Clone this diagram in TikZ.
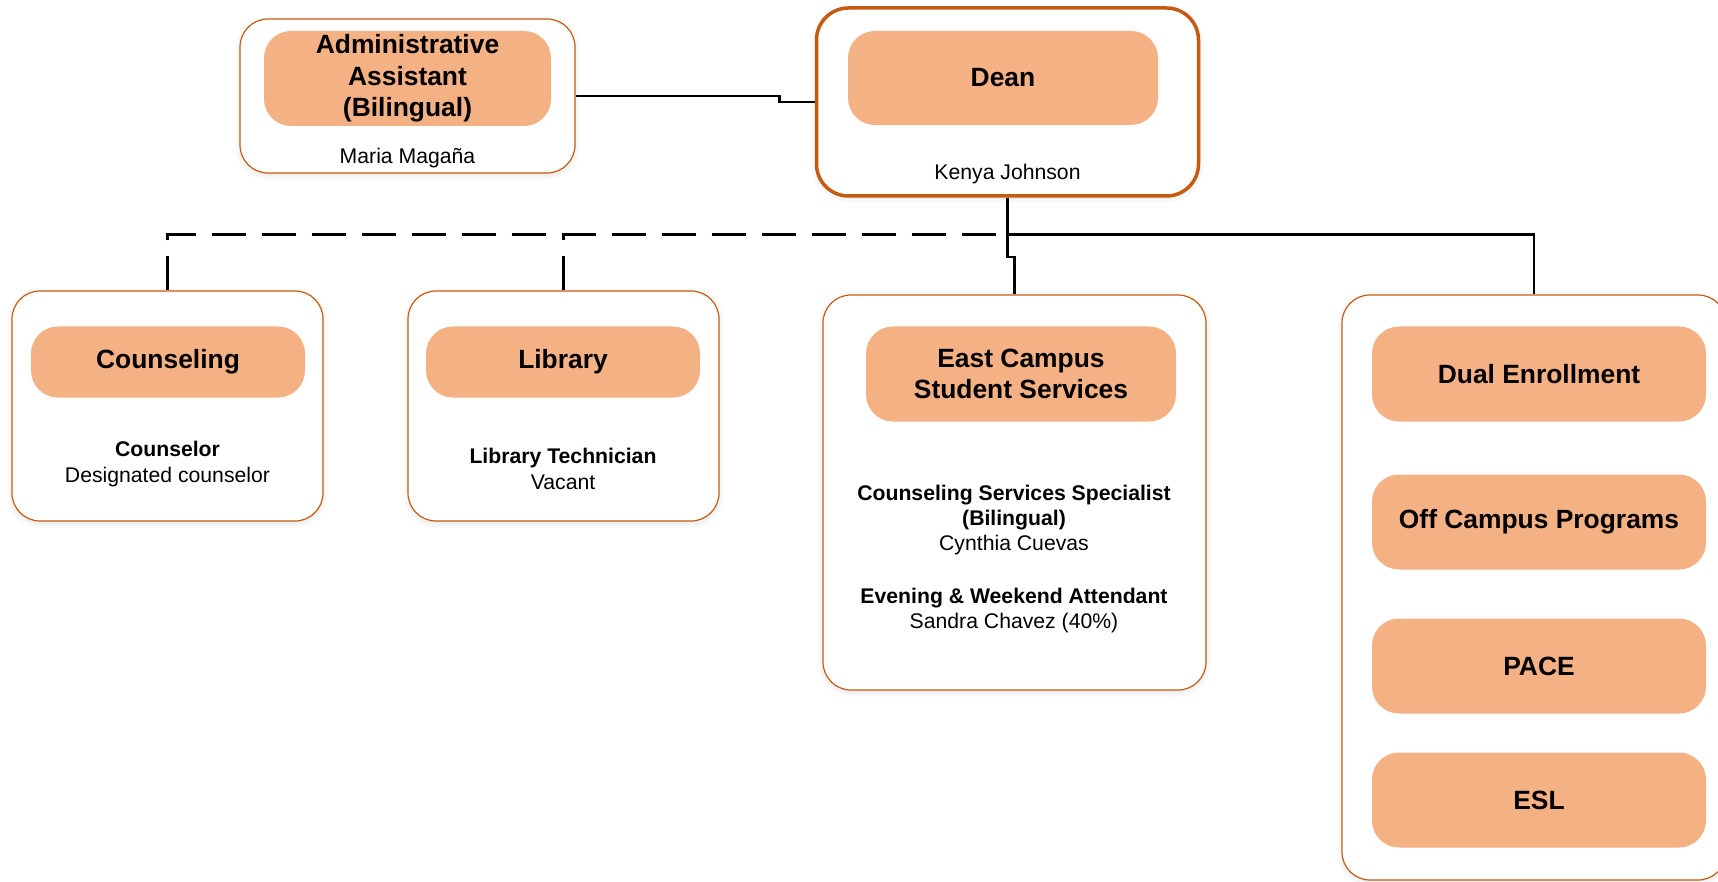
\documentclass[tikz,border=0pt]{standalone}
\usepackage{fontspec}
\setmainfont{Liberation Sans}
\usetikzlibrary{positioning,shadows.blur}
\definecolor{orgline}{HTML}{C55A11}
\definecolor{orgfill}{HTML}{F4B183}
\tikzset{
  unitbox/.style={draw=orgline,line width=1.2pt,fill=white,rounded corners=28pt,
    blur shadow={shadow xshift=0pt,shadow yshift=-2pt,shadow blur radius=6pt,shadow opacity=12,shadow blur steps=6}},
  deanbox/.style={unitbox,line width=3.5pt,rounded corners=32pt},
  titlebox/.style={fill=orgfill,rounded corners=27pt,align=center,inner sep=0pt,
    font=\bfseries\fontsize{26.4}{31.5}\selectfont},
  staff/.style={align=center,inner sep=0pt,font=\fontsize{21.2}{25.2}\selectfont},
  conn/.style={line width=2.4pt},
  dotline/.style={conn,dash pattern=on 34pt off 16pt}
}
\begin{document}
\begin{tikzpicture}[x=1pt,y=-1pt]
\useasboundingbox (0,0) rectangle (1718,882);
\pgfmathsetmacro{\busy}{234.5}

\node[unitbox,minimum width=335pt,minimum height=154pt] (admin) at (407.5,96) {};
\node[titlebox,minimum width=287pt,minimum height=95pt] (admintitle) at (407.5,78.5) {Administrative\\Assistant\\(Bilingual)};
\node[staff] (adminname) at (407.5,158) {Maria Magaña};

\node[deanbox,minimum width=382pt,minimum height=188pt] (dean) at (1007.5,102) {};
\node[titlebox,minimum width=310pt,minimum height=94pt] (deantitle) at (1003,78) {Dean};
\node[staff] (deanname) at (1007.5,174) {Kenya Johnson};

\node[unitbox,minimum width=311pt,minimum height=230pt] (couns) at (167.5,406) {};
\node[titlebox,minimum width=274pt,minimum height=71pt] (counstitle) at (168,362) {Counseling};
\node[staff] (counsstaff) at (167.5,464) {\textbf{Counselor}\\Designated counselor};

\node[unitbox,minimum width=311pt,minimum height=230pt] (lib) at (563.5,406) {};
\node[titlebox,minimum width=274pt,minimum height=71pt] (libtitle) at (563,362) {Library};
\node[staff] (libstaff) at (563,469) {\textbf{Library Technician}\\Vacant};

\node[unitbox,minimum width=383pt,minimum height=395pt] (east) at (1014.5,492.5) {};
\node[titlebox,minimum width=310pt,minimum height=95pt] (easttitle) at (1021,374) {East Campus\\Student Services};
\node[staff] (eaststaff) at (1014,559) {\textbf{Counseling Services Specialist}\\\textbf{(Bilingual)}\\Cynthia Cuevas\\[28pt]\textbf{Evening \& Weekend Attendant}\\Sandra Chavez (40\%)};

\node[unitbox,minimum width=384pt,minimum height=585pt] (prog) at (1534,587.5) {};
\node[titlebox,minimum width=334pt,minimum height=95pt] (dual) at (1539,374) {Dual Enrollment};
\node[titlebox,minimum width=334pt,minimum height=95pt] (offcampus) at (1539,522) {Off Campus Programs};
\node[titlebox,minimum width=334pt,minimum height=95pt] (pace) at (1539,666) {PACE};
\node[titlebox,minimum width=334pt,minimum height=95pt] (esl) at (1539,800) {ESL};

\coordinate (bus) at (dean.south |- 0,\busy);
\draw[conn] (admin.east) -- ++(204,0) |- (dean.west);
\draw[conn] (dean.south) -- (bus) -| (prog.north);
\draw[conn] (bus) -- ++(0,22.5) -| (east.north);
\draw[dotline] (couns.north) |- (bus);
\draw[dotline] (lib.north) -- (lib.north |- bus);
\end{tikzpicture}
\end{document}
